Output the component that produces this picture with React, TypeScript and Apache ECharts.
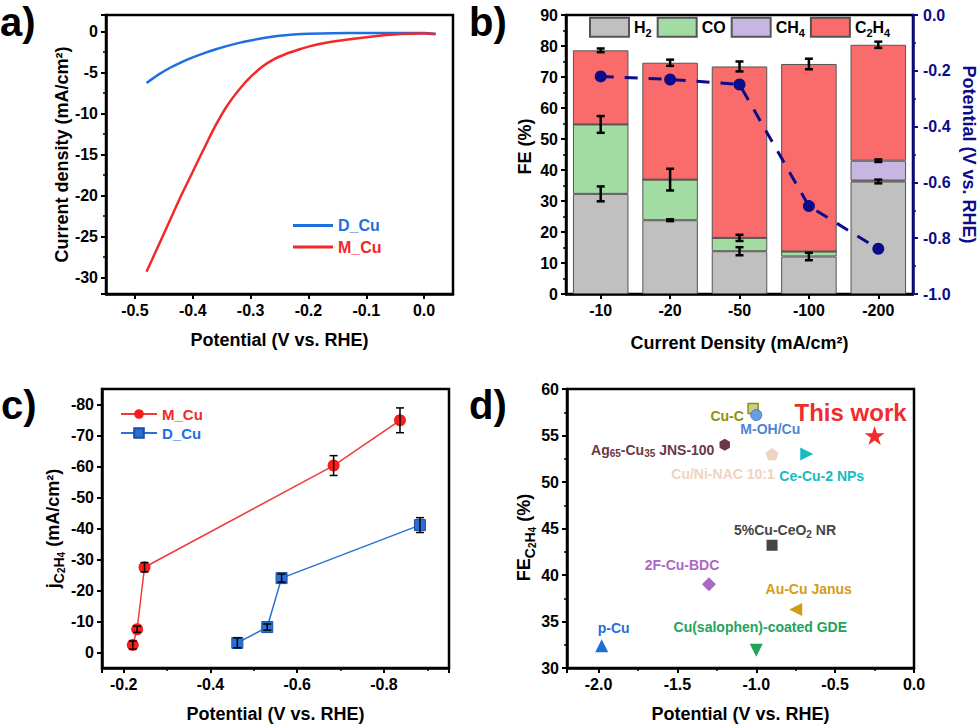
import React, { useEffect, useRef } from 'react';
import * as echarts from 'echarts';

const FONT = '"Liberation Sans", Arial, Helvetica, sans-serif';
const BLUE = '#1f6fe0';
const RED = '#f02a2a';
const NAVY = '#0c0c8a';

// ---------- (a) LSV curves ----------
const lsvPotential = [-0.48, -0.46, -0.44, -0.42, -0.40, -0.38, -0.36, -0.34, -0.32, -0.30, -0.28, -0.26, -0.24, -0.22, -0.20, -0.16, -0.10, -0.04, 0.0, 0.02];
const lsvDCu = [-6.3, -5.3, -4.46, -3.76, -3.16, -2.64, -2.18, -1.76, -1.4, -1.1, -0.84, -0.62, -0.46, -0.36, -0.3, -0.23, -0.2, -0.2, -0.2, -0.28];
const lsvMCu = [-29.3, -26.2, -23.1, -20.0, -17.1, -14.2, -11.4, -9.0, -7.1, -5.55, -4.3, -3.4, -2.78, -2.3, -1.85, -1.27, -0.7, -0.33, -0.25, -0.35];

// ---------- (b) FE stacked bars ----------
const currentDensities = ['-10', '-20', '-50', '-100', '-200'];
const feH2 = [32.3, 23.8, 13.8, 12.1, 36.3];
const feCO = [22.4, 13.1, 4.3, 1.6, 0.3];
const feCH4 = [0, 0, 0, 0, 6.4];
const feC2H4 = [23.9, 37.7, 55.3, 60.5, 37.4];
const errH2 = [2.4, 0.3, 1.3, 1.2, 0.6];
const errCO = [2.7, 3.5, 1.0, 0, 0];
const errCH4 = [0, 0, 0, 0, 0.4];
const errC2H4 = [0.6, 1.0, 1.6, 1.7, 1.0];
const appliedPotential = [-0.22, -0.231, -0.249, -0.685, -0.838];

// ---------- (c) partial current density ----------
const mCuPotential = [-0.221, -0.231, -0.248, -0.684, -0.837];
const mCuJ = [-2.4, -7.5, -27.5, -60.3, -74.9];
const mCuErr = [1.3, 1.0, 1.5, 3.2, 4.0];
const dCuPotential = [-0.462, -0.531, -0.564, -0.883];
const dCuJ = [-3.1, -8.2, -24.0, -41.1];
const dCuErr = [1.6, 1.0, 1.3, 2.4];

// ---------- (d) comparison ----------
const refNames = ['This work', 'Cu-C', 'M-OH/Cu', 'Ag_{65}-Cu_{35} JNS-100', 'Cu/Ni-NAC 10:1', 'Ce-Cu-2 NPs', '5%Cu-CeO_{2} NR', '2F-Cu-BDC', 'Au-Cu Janus', 'p-Cu', 'Cu(salophen)-coated GDE'];
const refPotential = [-0.25, -1.02, -1.0, -1.2, -0.9, -0.68, -0.9, -1.3, -0.75, -1.98, -1.0];
const refFE = [55.0, 57.9, 57.2, 54.0, 53.0, 53.0, 43.2, 39.0, 36.3, 32.4, 31.9];

// styles for (d)
const STAR = 'path://M0,-10L2.25,-3.09L9.51,-3.09L3.63,1.18L5.88,8.09L0,3.82L-5.88,8.09L-3.63,1.18L-9.51,-3.09L-2.25,-3.09Z';
const HEX = 'path://M0,-10L8.66,-5L8.66,5L0,10L-8.66,5L-8.66,-5Z';
const PENT = 'path://M0,-10L9.51,-3.09L5.88,8.09L-5.88,8.09L-9.51,-3.09Z';
const TRI_UP = 'path://M0,-1L1,1L-1,1Z';
const TRI_DOWN = 'path://M-1,-1L1,-1L0,1Z';
const TRI_RIGHT = 'path://M-1,-1L1,0L-1,1Z';
const TRI_LEFT = 'path://M1,-1L-1,0L1,1Z';
const refSymbols = [STAR, 'rect', 'circle', HEX, PENT, TRI_RIGHT, 'rect', 'diamond', TRI_LEFT, TRI_UP, TRI_DOWN];
const refSizes = [20, 10, 11, 12, 13, 13, 11, 14, 13, 13, 13];
const refColors = ['#f02c2c', '#8f8f0c', '#4f86d2', '#6b3844', '#efd3c1', '#14bcc2', '#464646', '#ad68c4', '#d49c14', '#1f6fd9', '#23a35a'];
const refLabelOffsets = [[-24, -23], [-26, 7], [14, 14], [-72, 5], [-49, 20], [15, 22], [13, -15], [-27, -19], [13, -20], [12, -18], [4, -23]];
const refLabelSizes = [24, 14, 14, 14, 14, 14, 14, 14, 14, 14, 14];

const fmt1 = (v: number) => (Math.abs(v) < 1e-9 ? '0.0' : v.toFixed(1));

function toRich(str: string, m = 'm', s = 's') {
  const parts = str.split(/_\{([^}]*)\}/);
  let out = '';
  parts.forEach((p, i) => {
    if (!p) return;
    out += i % 2 === 1 ? `{${s}|${p}}` : `{${m}|${p}}`;
  });
  return out;
}
function chem(name: string) {
  return name.replace(/(\d+)/g, '_{$1}');
}

const axisLine = (color = '#000') => ({ show: true, onZero: false, lineStyle: { color, width: 2.5 } });
const axisTick = (color = '#000') => ({ show: true, inside: false, length: 5, lineStyle: { color, width: 2 } });
const minorTick = (color = '#000') => ({ show: true, splitNumber: 2, length: 3, lineStyle: { color, width: 1.5 } });
const axisLabel = (extra: any = {}, color = '#000') => ({ color, fontSize: 16, fontWeight: 'bold', fontFamily: FONT, margin: 8, ...extra });
const nameStyle = (extra: any = {}, color = '#000') => ({ color, fontSize: 18, fontWeight: 'bold', fontFamily: FONT, ...extra });

const nameRich = {
  m: { fontSize: 18, fontWeight: 'bold', fontFamily: FONT, color: '#000', lineHeight: 26, verticalAlign: 'middle' },
  s: { fontSize: 14, fontWeight: 'bold', fontFamily: FONT, color: '#000', lineHeight: 14, verticalAlign: 'bottom' },
  ss: { fontSize: 10, fontWeight: 'bold', fontFamily: FONT, color: '#000', lineHeight: 7, verticalAlign: 'bottom' },
};

const errorBarItem = (capHalf: number, lw: number) => (params: any, api: any) => {
  const x = api.value(0);
  const y = api.value(1);
  const e = api.value(2);
  const a = api.coord([x, y + e]);
  const b = api.coord([x, y - e]);
  const style = { stroke: '#000', lineWidth: lw };
  return {
    type: 'group',
    children: [
      { type: 'line', shape: { x1: a[0], y1: a[1], x2: b[0], y2: b[1] }, style },
      { type: 'line', shape: { x1: a[0] - capHalf, y1: a[1], x2: a[0] + capHalf, y2: a[1] }, style },
      { type: 'line', shape: { x1: b[0] - capHalf, y1: b[1], x2: b[0] + capHalf, y2: b[1] }, style },
    ],
  };
};

function buildOption() {
  const gridBase = { show: true, borderColor: '#000', borderWidth: 2.5, backgroundColor: 'rgba(0,0,0,0)', containLabel: false, outerBoundsMode: 'none' };

  const feSegments = [feH2, feCO, feCH4, feC2H4];
  const feErrs = [errH2, errCO, errCH4, errC2H4];
  const feErrData: number[][] = [];
  currentDensities.forEach((_, i) => {
    let cum = 0;
    feSegments.forEach((seg, k) => {
      cum += seg[i];
      if (feErrs[k][i] > 0) feErrData.push([i, cum, feErrs[k][i]]);
    });
  });

  const barColors = ['#c0c0c0', '#a3dca3', '#c8b6e2', '#fa6b6b'];
  const barNames = ['H2', 'CO', 'CH4', 'C2H4'];

  const refData = refNames.map((n, i) => {
    const color = refColors[i];
    const size = refLabelSizes[i];
    let itemStyle: any = { color, opacity: 1 };
    if (i === 1) itemStyle = { color: 'rgba(143,143,12,0.45)', borderColor: '#8f8f0c', borderWidth: 1.5, opacity: 1 };
    if (i === 2) itemStyle = { color: '#6c9be0', borderColor: '#4a7cc8', borderWidth: 1, opacity: 1 };
    return {
      name: n,
      value: [refPotential[i], refFE[i]],
      symbol: refSymbols[i],
      symbolSize: refSizes[i],
      itemStyle,
      label: {
        show: true,
        position: 'inside',
        align: 'center',
        verticalAlign: 'middle',
        offset: refLabelOffsets[i],
        opacity: 1,
        formatter: toRich(n),
        rich: {
          m: { fontSize: size, fontWeight: 'bold', fontFamily: FONT, color, lineHeight: size + 4, verticalAlign: 'middle' },
          s: { fontSize: 10, fontWeight: 'bold', fontFamily: FONT, color, lineHeight: 9, verticalAlign: 'bottom' },
        },
      },
    };
  });

  return {
    animation: false,
    backgroundColor: '#ffffff',
    textStyle: { fontFamily: FONT },
    grid: [
      { ...gridBase, left: 106, top: 15, width: 347, height: 279 },
      { ...gridBase, left: 566, top: 15, width: 347, height: 279 },
      { ...gridBase, left: 102, top: 389, width: 347, height: 279 },
      { ...gridBase, left: 567, top: 389, width: 347, height: 279 },
    ],
    xAxis: [
      {
        type: 'value', gridIndex: 0, min: -0.55, max: 0.05, splitNumber: 6,
        axisLine: axisLine(), axisTick: axisTick(), splitLine: { show: false },
        axisLabel: axisLabel({ formatter: fmt1, showMinLabel: false, showMaxLabel: false }),
        name: 'Potential (V vs. RHE)', nameLocation: 'middle', nameGap: 37, nameTextStyle: nameStyle(),
      },
      {
        type: 'category', gridIndex: 1, data: currentDensities, boundaryGap: true,
        axisLine: axisLine(), axisTick: { ...axisTick(), alignWithLabel: true }, splitLine: { show: false },
        axisLabel: axisLabel(),
        name: 'Current Density (mA/cm²)', nameLocation: 'middle', nameGap: 40, nameTextStyle: nameStyle(),
      },
      {
        type: 'value', gridIndex: 2, min: -0.95, max: -0.15, splitNumber: 4, inverse: true,
        axisLine: axisLine(), axisTick: axisTick(), minorTick: minorTick(), splitLine: { show: false }, minorSplitLine: { show: false },
        axisLabel: axisLabel({ formatter: fmt1, showMinLabel: false, showMaxLabel: false }),
        name: 'Potential (V vs. RHE)', nameLocation: 'middle', nameGap: 37, nameTextStyle: nameStyle(),
      },
      {
        type: 'value', gridIndex: 3, min: -2.2, max: 0, splitNumber: 5,
        axisLine: axisLine(), axisTick: axisTick(), minorTick: minorTick(), splitLine: { show: false }, minorSplitLine: { show: false },
        axisLabel: axisLabel({ formatter: fmt1, showMinLabel: false }),
        name: 'Potential (V vs. RHE)', nameLocation: 'middle', nameGap: 37, nameTextStyle: nameStyle(),
      },
    ],
    yAxis: [
      {
        type: 'value', gridIndex: 0, min: -32, max: 2, splitNumber: 7,
        axisLine: axisLine(), axisTick: axisTick(), minorTick: minorTick(), splitLine: { show: false }, minorSplitLine: { show: false },
        axisLabel: axisLabel({ showMinLabel: false, showMaxLabel: false }),
        name: 'Current density (mA/cm²)', nameLocation: 'middle', nameGap: 35, nameTextStyle: nameStyle(),
      },
      {
        type: 'value', gridIndex: 1, min: 0, max: 90, interval: 10,
        axisLine: axisLine(), axisTick: axisTick(), minorTick: minorTick(), splitLine: { show: false }, minorSplitLine: { show: false },
        axisLabel: axisLabel(),
        name: 'FE (%)', nameLocation: 'middle', nameGap: 32, nameTextStyle: nameStyle({ padding: [0, 0, 0, 16] }),
      },
      {
        type: 'value', gridIndex: 1, position: 'right', min: -1, max: 0, interval: 0.2,
        axisLine: axisLine(NAVY), axisTick: axisTick(NAVY), minorTick: minorTick(NAVY), splitLine: { show: false }, minorSplitLine: { show: false },
        axisLabel: axisLabel({ formatter: fmt1, margin: 10 }, NAVY),
        name: 'Potential (V vs. RHE)', nameLocation: 'middle', nameRotate: -90, nameGap: 47, nameTextStyle: nameStyle({}, NAVY),
      },
      {
        type: 'value', gridIndex: 2, min: -85, max: 5, splitNumber: 9, inverse: true,
        axisLine: axisLine(), axisTick: axisTick(), splitLine: { show: false },
        axisLabel: axisLabel({ showMinLabel: false, showMaxLabel: false }),
        name: '{m|j}{s|C}{ss|2}{s|H}{ss|4}{m| (mA/cm²)}', nameLocation: 'middle', nameGap: 36,
        nameTextStyle: nameStyle({ rich: nameRich }),
      },
      {
        type: 'value', gridIndex: 3, min: 30, max: 60, interval: 5,
        axisLine: axisLine(), axisTick: axisTick(), minorTick: minorTick(), splitLine: { show: false }, minorSplitLine: { show: false },
        axisLabel: axisLabel(),
        name: '{m|FE}{s|C}{ss|2}{s|H}{ss|4}{m| (%)}', nameLocation: 'middle', nameGap: 30,
        nameTextStyle: nameStyle({ rich: nameRich, padding: [0, 18, 0, 0] }),
      },
    ],
    legend: [
      {
        orient: 'vertical', left: 293, top: 215.6, padding: 0, itemWidth: 40, itemHeight: 3, itemGap: 1.5, selectedMode: false, icon: 'rect',
        textStyle: { fontSize: 16, fontWeight: 'bold', fontFamily: FONT, lineHeight: 20 },
        data: [
          { name: 'D_Cu', textStyle: { color: BLUE } },
          { name: 'M_Cu', textStyle: { color: RED } },
        ],
      },
      {
        orient: 'horizontal', left: 589, top: 16.8, padding: 0, itemWidth: 39, itemHeight: 19, itemGap: 5, selectedMode: false, icon: 'rect',
        formatter: (name: string) => toRich(chem(name)),
        textStyle: {
          fontSize: 16, fontWeight: 'bold', fontFamily: FONT, color: '#000',
          rich: {
            m: { fontSize: 16, fontWeight: 'bold', fontFamily: FONT, color: '#000', lineHeight: 22, verticalAlign: 'middle' },
            s: { fontSize: 11, fontWeight: 'bold', fontFamily: FONT, color: '#000', lineHeight: 11, verticalAlign: 'bottom' },
          },
        },
        data: barNames,
      },
      {
        orient: 'vertical', left: 120, top: 405.5, padding: 0, itemWidth: 36, itemHeight: 12, itemGap: 2, selectedMode: false,
        formatter: (name: string) => name.replace(/^c:/, ''),
        textStyle: { fontSize: 15, fontWeight: 'bold', fontFamily: FONT, lineHeight: 17 },
        data: [
          { name: 'c:M_Cu', textStyle: { color: RED } },
          { name: 'c:D_Cu', textStyle: { color: BLUE } },
        ],
      },
    ],
    graphic: [
      { type: 'text', x: 0, y: 21.5, style: { text: 'a)', fontSize: 40, fontWeight: 'bold', fontFamily: FONT, fill: '#000', align: 'left', verticalAlign: 'middle' } },
      { type: 'text', x: 469, y: 21.5, style: { text: 'b)', fontSize: 40, fontWeight: 'bold', fontFamily: FONT, fill: '#000', align: 'left', verticalAlign: 'middle' } },
      { type: 'text', x: 1, y: 404.7, style: { text: 'c)', fontSize: 40, fontWeight: 'bold', fontFamily: FONT, fill: '#000', align: 'left', verticalAlign: 'middle' } },
      { type: 'text', x: 469, y: 404.7, style: { text: 'd)', fontSize: 40, fontWeight: 'bold', fontFamily: FONT, fill: '#000', align: 'left', verticalAlign: 'middle' } },
    ],
    series: [
      // (a)
      {
        name: 'D_Cu', type: 'line', xAxisIndex: 0, yAxisIndex: 0, symbol: 'none', smooth: 0.3,
        lineStyle: { color: BLUE, width: 2.5 }, itemStyle: { color: BLUE },
        data: lsvPotential.map((p, i) => [p, lsvDCu[i]]),
      },
      {
        name: 'M_Cu', type: 'line', xAxisIndex: 0, yAxisIndex: 0, symbol: 'none', smooth: 0.3,
        lineStyle: { color: RED, width: 2.5 }, itemStyle: { color: RED },
        data: lsvPotential.map((p, i) => [p, lsvMCu[i]]),
      },
      // (b)
      ...barNames.map((n, k) => ({
        name: n, type: 'bar', xAxisIndex: 1, yAxisIndex: 1, stack: 'fe', barWidth: '80%',
        itemStyle: { color: barColors[k], borderColor: '#555', borderWidth: 1 },
        data: feSegments[k],
      })),
      {
        name: 'Potential', type: 'line', xAxisIndex: 1, yAxisIndex: 2, symbol: 'circle', symbolSize: 12, z: 4,
        lineStyle: { color: NAVY, width: 3, type: [13, 11] }, itemStyle: { color: NAVY },
        data: appliedPotential,
      },
      {
        name: 'FE error', type: 'custom', xAxisIndex: 1, yAxisIndex: 1, z: 5,
        renderItem: errorBarItem(4, 2.5), encode: { x: 0, y: 1 },
        data: feErrData,
      },
      // (c)
      {
        name: 'c:M_Cu', type: 'line', xAxisIndex: 2, yAxisIndex: 3, symbol: 'circle', symbolSize: 12,
        lineStyle: { color: '#f03a3a', width: 1.5 }, itemStyle: { color: '#f81c1c' },
        data: mCuPotential.map((p, i) => [p, mCuJ[i]]),
      },
      {
        name: 'c:D_Cu', type: 'line', xAxisIndex: 2, yAxisIndex: 3, symbol: 'rect', symbolSize: 11,
        lineStyle: { color: '#2a6fd6', width: 1.5 }, itemStyle: { color: '#2a6fd6', borderColor: '#1a4fa0', borderWidth: 1 },
        data: dCuPotential.map((p, i) => [p, dCuJ[i]]),
      },
      {
        name: 'j error', type: 'custom', xAxisIndex: 2, yAxisIndex: 3, z: 5,
        renderItem: errorBarItem(4, 1.5), encode: { x: 0, y: 1 },
        data: [
          ...mCuPotential.map((p, i) => [p, mCuJ[i], mCuErr[i]]),
          ...dCuPotential.map((p, i) => [p, dCuJ[i], dCuErr[i]]),
        ],
      },
      // (d)
      {
        name: 'Comparison', type: 'scatter', xAxisIndex: 3, yAxisIndex: 4, symbolKeepAspect: true,
        itemStyle: { opacity: 1 },
        data: refData,
      },
    ],
  };
}

export default function App() {
  const ref = useRef<HTMLDivElement>(null);
  useEffect(() => {
    document.body.style.margin = '0';
    if (!ref.current) return;
    const chart = echarts.init(ref.current, null, { renderer: 'svg' });
    chart.setOption(buildOption() as any);
    return () => chart.dispose();
  }, []);
  return <div ref={ref} style={{ width: 980, height: 727 }} />;
}
